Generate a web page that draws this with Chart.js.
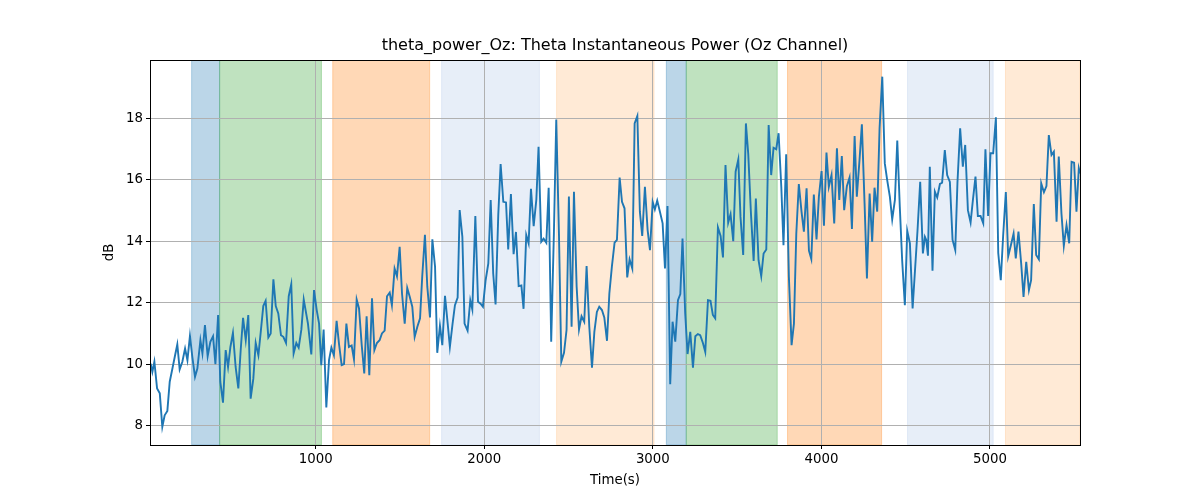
<!DOCTYPE html>
<html>
<head>
<meta charset="utf-8">
<script src="https://cdn.jsdelivr.net/npm/chart.js@4/dist/chart.umd.min.js"></script>
<style>
  html, body { margin: 0; padding: 0; background: #ffffff; }
  #wrap { width: 1200px; height: 500px; position: relative; }
</style>
</head>
<body>
<div id="wrap"><canvas id="c" width="1200" height="500"></canvas></div>
<script>
// ---- Data ----
const chartTitle = 'theta_power_Oz: Theta Instantaneous Power (Oz Channel)';
const xLabel = 'Time(s)';
const yLabel = 'dB';

const times = [
  21,31,43,59,75,90,104,120,134,150,164,179,193,209,225,239,254,268,284,298,
  316,328,343,359,375,391,405,421,434,450,466,480,494,509,525,541,555,569,585,600,
  614,630,644,660,674,689,703,719,733,749,763,778,794,808,824,840,855,869,885,899,
  915,929,954,974,990,1006,1020,1033,1047,1063,1079,1093,1108,1124,1138,1154,1168,1182,1197,1213,
  1227,1243,1257,1273,1288,1302,1318,1334,1348,1363,1379,1393,1409,1423,1439,1452,1468,1482,1498,1512,
  1528,1543,1557,1573,1587,1603,1619,1632,1648,1662,1678,1692,1708,1721,1737,1751,1767,1783,1796,1812,
  1826,1842,1854,1870,1883,1901,1917,1929,1947,1963,1978,1992,2008,2024,2038,2053,2067,2083,2097,2113,
  2129,2142,2158,2174,2188,2204,2220,2233,2249,2263,2277,2293,2309,2322,2338,2352,2368,2382,2397,2413,
  2427,2443,2457,2473,2488,2502,2518,2532,2548,2562,2577,2593,2607,2623,2639,2653,2668,2682,2698,2712,
  2728,2742,2757,2773,2787,2803,2817,2832,2848,2862,2878,2892,2908,2923,2937,2953,2969,2983,2999,3012,
  3026,3042,3058,3072,3087,3103,3117,3133,3149,3163,3176,3192,3206,3222,3238,3252,3267,3281,3297,3311,
  3327,3342,3356,3370,3386,3402,3416,3431,3447,3461,3477,3491,3507,3520,3536,3552,3566,3582,3598,3611,
  3627,3643,3657,3673,3687,3702,3716,3732,3746,3762,3775,3791,3807,3823,3837,3851,3866,3882,3896,3912,
  3926,3940,3955,3971,3985,4001,4015,4030,4044,4060,4076,4092,4106,4121,4135,4151,4167,4181,4197,4210,
  4226,4240,4256,4270,4286,4301,4315,4331,4345,4361,4376,4390,4406,4420,4436,4450,4465,4479,4495,4509,
  4525,4541,4554,4570,4586,4602,4614,4622,4632,4643,4659,4673,4687,4703,4716,4732,4746,4762,4778,4794,
  4807,4823,4839,4853,4869,4885,4898,4914,4928,4944,4960,4973,4989,5003,5019,5035,5049,5064,5078,5094,
  5108,5124,5140,5153,5169,5185,5199,5215,5231,5244,5260,5274,5290,5304,5320,5335,5349,5365,5379,5395,
  5408,5424,5438,5454,5470,5484,5499,5513,5527,5535
];

const thetaPower = [
  10.03,9.76,10.09,9.22,9.06,7.97,8.35,8.49,9.44,9.87,10.25,10.65,9.84,10.09,10.52,10.14,10.93,10.25,9.60,9.87,
  10.79,10.36,11.28,10.27,10.74,10.92,10.01,11.61,9.44,8.76,10.47,9.92,10.57,11.03,9.92,9.22,10.47,11.52,10.79,11.61,
  8.89,9.54,10.70,10.30,11.06,11.90,12.07,10.88,11.01,12.77,11.90,11.66,10.95,10.90,10.70,12.22,12.61,10.36,10.70,10.55,
  11.14,12.11,11.33,10.33,12.42,11.77,11.33,9.98,11.14,8.60,10.14,10.55,10.30,11.42,10.68,9.98,10.01,11.33,10.57,10.62,
  10.17,12.11,11.82,10.63,9.71,11.57,9.65,12.15,10.47,10.70,10.79,11.01,11.10,12.22,12.34,11.93,13.12,12.87,13.83,12.31,
  11.33,12.49,12.22,11.88,10.90,11.23,11.50,12.87,14.22,12.53,11.53,14.07,13.18,10.38,11.26,10.63,12.23,11.33,10.57,11.33,
  11.93,12.18,15.02,14.15,11.33,11.10,12.09,11.79,14.83,12.04,11.98,11.88,12.74,13.29,15.35,12.96,11.95,14.86,16.52,15.29,
  15.27,13.74,15.54,13.59,14.31,12.55,12.57,11.81,14.21,13.94,15.71,14.50,15.37,17.08,13.99,14.09,13.96,15.75,10.74,14.26,
  17.97,14.26,10.09,10.38,11.12,15.46,11.23,15.62,12.53,11.14,11.57,11.39,13.20,11.23,9.90,11.06,11.71,11.88,11.77,11.53,
  10.77,12.31,13.18,13.96,14.05,16.08,15.29,15.08,12.83,13.42,13.12,17.84,18.08,14.97,14.18,15.78,14.37,13.72,15.29,15.04,
  15.33,14.97,14.59,13.12,15.15,9.36,11.39,10.74,12.09,12.29,14.10,11.66,10.34,11.06,9.90,10.92,10.99,10.95,10.70,10.41,
  12.09,12.07,11.61,11.50,14.46,14.18,13.48,16.49,14.61,14.89,14.01,16.27,16.67,14.80,13.56,17.84,16.84,14.91,13.37,15.40,
  13.39,12.87,13.61,13.74,17.79,16.16,17.05,17.00,17.52,15.78,13.88,16.84,12.85,10.63,11.33,14.26,15.87,14.97,14.32,15.73,
  13.70,13.43,15.53,14.07,15.46,16.29,14.51,16.89,15.78,16.16,14.59,17.03,15.35,16.78,15.02,15.80,16.08,14.41,17.43,15.46,
  16.65,17.81,15.24,12.80,15.56,13.99,15.75,14.97,17.68,19.36,16.54,16.00,15.46,14.72,15.35,17.28,15.13,13.39,11.93,14.35,
  13.94,11.82,12.96,14.35,15.94,13.61,14.15,14.05,13.54,16.43,13.05,15.62,15.43,15.87,15.91,16.97,16.16,15.94,14.05,13.72,
  15.91,17.68,16.43,17.14,15.02,14.62,15.31,16.11,14.83,14.83,14.59,17.00,14.83,16.87,16.87,18.04,13.63,12.74,14.18,15.61,
  13.52,13.88,14.26,13.45,14.32,13.29,12.20,13.34,12.42,12.74,15.22,13.56,13.42,15.89,15.60,15.80,17.46,16.81,16.92,14.64,
  16.76,14.91,13.86,14.53,13.94,16.59,16.56,14.97,16.38,16.21
];

// Shaded phases (time ranges, seconds)
const spanStart = [264, 430, 1101, 1747, 2429, 3080, 3198, 3799, 4511, 5092];
const spanEnd   = [430, 1034, 1676, 2327, 3007, 3198, 3738, 4357, 5019, 5534];
const spanKind  = ['blue', 'green', 'orange', 'lightblue', 'lightorange',
                   'blue', 'green', 'orange', 'lightblue', 'lightorange'];

const xTickValues = [1000, 2000, 3000, 4000, 5000];
const yTickValues = [8, 10, 12, 14, 16, 18];
const xRange = [17, 5534];
const yRange = [7.382, 19.902];

// ---- Styles ----
const spanStyle = {
  blue:        'rgba(31,119,180,0.3)',
  green:       'rgba(44,160,44,0.3)',
  orange:      'rgba(255,127,14,0.3)',
  lightblue:   'rgba(174,199,232,0.3)',
  lightorange: 'rgba(255,187,120,0.3)'
};
const FONT = "'DejaVu Sans', 'Liberation Sans', sans-serif";

const spansPlugin = {
  id: 'spans',
  beforeDraw(chart) {
    const {ctx, chartArea, scales} = chart;
    const xs = scales.x;
    ctx.save();
    ctx.beginPath();
    ctx.rect(chartArea.left, chartArea.top, chartArea.right - chartArea.left, chartArea.bottom - chartArea.top);
    ctx.clip();
    for (let i = 0; i < spanStart.length; i++) {
      const x0 = xs.getPixelForValue(spanStart[i]);
      const x1 = xs.getPixelForValue(spanEnd[i]);
      const col = spanStyle[spanKind[i]];
      ctx.fillStyle = col;
      ctx.fillRect(x0, chartArea.top, x1 - x0, chartArea.bottom - chartArea.top);
      ctx.strokeStyle = col;
      ctx.lineWidth = 1;
      ctx.strokeRect(x0, chartArea.top, x1 - x0, chartArea.bottom - chartArea.top);
    }
    ctx.restore();
  },
  afterDraw(chart) {
    const {ctx, chartArea} = chart;
    const l = Math.round(chartArea.left), r = Math.round(chartArea.right);
    const t = Math.round(chartArea.top), b = Math.round(chartArea.bottom);
    ctx.save();
    ctx.strokeStyle = '#000';
    ctx.lineWidth = 1;
    ctx.strokeRect(l + 0.5, t + 0.5, r - l, b - t);
    ctx.fillStyle = '#000';
    ctx.font = '16px ' + FONT;
    ctx.textAlign = 'center';
    ctx.textBaseline = 'middle';
    ctx.fillText(chartTitle, (chartArea.left + chartArea.right) / 2, 46);
    ctx.restore();
  }
};

const points = times.map((t, i) => ({x: t, y: thetaPower[i]}));

new Chart(document.getElementById('c'), {
  type: 'line',
  data: {
    datasets: [{
      data: points,
      borderColor: '#1f77b4',
      borderWidth: 1.9,
      pointRadius: 0,
      tension: 0,
      fill: false
    }]
  },
  options: {
    responsive: false,
    animation: false,
    layout: { padding: { top: 60, right: 120, left: 0, bottom: 0 } },
    plugins: {
      legend: { display: false },
      title: { display: false },
      tooltip: { enabled: false }
    },
    scales: {
      x: {
        type: 'linear',
        min: xRange[0],
        max: xRange[1],
        afterBuildTicks(scale) { scale.ticks = xTickValues.map(v => ({value: v})); },
        afterFit(scale) { scale.height = 55; },
        grid: { color: '#b0b0b0', lineWidth: 1, tickColor: '#000', tickLength: 4, drawTicks: true },
        border: { display: false },
        ticks: { color: '#000', font: { family: FONT, size: 13.33 }, padding: 3, maxRotation: 0,
                 callback: v => String(v) },
        title: { display: true, text: xLabel, color: '#000', font: { family: FONT, size: 13.33 },
                 padding: { top: 0, bottom: 11 } }
      },
      y: {
        type: 'linear',
        min: yRange[0],
        max: yRange[1],
        afterBuildTicks(scale) { scale.ticks = yTickValues.map(v => ({value: v})); },
        afterFit(scale) { scale.width = 150; },
        grid: { color: '#b0b0b0', lineWidth: 1, tickColor: '#000', tickLength: 4, drawTicks: true },
        border: { display: false },
        ticks: { color: '#000', font: { family: FONT, size: 13.33 }, padding: 3,
                 callback: v => String(v) },
        title: { display: true, text: yLabel, color: '#000', font: { family: FONT, size: 13.33 },
                 padding: { top: 102, bottom: 0 } }
      }
    }
  },
  plugins: [spansPlugin]
});
</script>
</body>
</html>
